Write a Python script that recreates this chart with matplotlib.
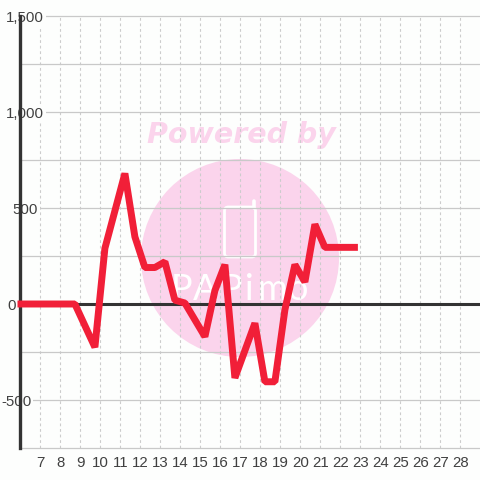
import matplotlib
matplotlib.use("Agg")
import matplotlib.pyplot as plt
from matplotlib.patches import Circle, FancyBboxPatch
from matplotlib.lines import Line2D

plt.rcParams['font.family'] = ['Liberation Sans', 'DejaVu Sans']

x_vals = [5.85, 8.72, 9.72, 10.22, 11.22, 11.72, 12.22, 12.72, 13.22, 13.72, 14.22, 15.22,
          15.72, 16.22, 16.72, 17.72, 18.22, 18.72, 19.22, 19.72, 20.22, 20.72, 21.22, 22.87]
y_vals = [0, 0, -225, 290, 680, 350, 190, 190, 220, 20, 5, -170,
          70, 205, -385, -100, -405, -405, -30, 205, 115, 415, 295, 295]
x_ticks = list(range(7, 29))
y_major = [-500, 0, 500, 1000, 1500]
y_labels = ['-500', '0', '500', '1,000', '1,500']
y_label_centers = [16, 12, 25, 25, 25]
y_minor = [-750, -250, 250, 750, 1250]
logo_letters = ['P', 'A', 'P', 'i', 'm', 'o']
logo_centers = [182, 205, 232, 249, 272, 298]

BG = '#fdfefd'
GRID = '#c9c9c9'
VGRID = '#cccccc'
DARK = '#333333'
TEXT = '#404040'
PINK = '#fbd4ec'
RED = '#f11f38'

fig = plt.figure(figsize=(4.8, 4.8), dpi=100, facecolor=BG)
ax = fig.add_axes([20.5 / 480, (480 - 448) / 480, (480 - 20.5) / 480, (448 - 16) / 480])
ax.set_facecolor('none')
ax.set_zorder(1)
ax.set_xlim(6, 28.975)
ax.set_ylim(-750, 1500)

# watermark, in figure pixels
def fx(p): return p / 480
def fy(p): return 1 - p / 480
wm = dict(transform=fig.transFigure, zorder=0)
fig.add_artist(Circle((fx(240), fy(258)), 99 / 480, facecolor=PINK, edgecolor='none', **wm))
fig.add_artist(FancyBboxPatch((fx(224.5), fy(257)), 31 / 480, 50 / 480,
                              boxstyle='round,pad=0,rounding_size=0.008',
                              facecolor='none', edgecolor='white', linewidth=2, **wm))
fig.add_artist(Line2D([fx(254), fx(254)], [fy(208), fy(201)], color='white', linewidth=2.6,
                      solid_capstyle='round', transform=fig.transFigure, zorder=0))
fig.text(fx(241.5), fy(135), 'Powered by', fontsize=20.5, fontweight='bold', fontstyle='italic',
         family='DejaVu Sans', color=PINK, ha='center', va='center', zorder=0)
for letter, cx in zip(logo_letters, logo_centers):
    fig.text(fx(cx), fy(290), letter, fontsize=26, color='white', family='Lato',
             ha='center', va='center', zorder=0)

for s in ax.spines.values():
    s.set_visible(False)

ax.set_xticks(x_ticks)
ax.set_xticklabels([str(t) for t in x_ticks])
ax.set_yticks(y_major)
ax.set_yticklabels(y_labels)
ax.set_yticks(y_minor, minor=True)
ax.tick_params(axis='both', which='both', length=0)
ax.tick_params(axis='x', labelsize=10.8, labelcolor=TEXT, pad=5.5)
ax.tick_params(axis='y', labelsize=10.8, labelcolor=TEXT, pad=0)

ax.grid(True, axis='x', color=VGRID, linewidth=0.8, linestyle=(0, (2.5, 2.5)), zorder=1)
ax.grid(True, axis='y', which='both', color=GRID, linewidth=0.9, zorder=1)
ax.set_axisbelow(True)
for t in ax.yaxis.get_minor_ticks() + ax.yaxis.get_major_ticks():
    t.gridline.set_clip_on(False)

ax.axhline(0, color=DARK, linewidth=2.2, zorder=2)
ax.axvline(6, color=DARK, linewidth=2.4, zorder=2, clip_on=False)

for lab, cx in zip(ax.get_yticklabels(), y_label_centers):
    lab.set_ha('center')
    lab.set_x((cx - 20.5) / (480 - 20.5))
    lab.set_bbox(dict(facecolor=BG, edgecolor='none', pad=1.5))
    lab.set_zorder(5)

ax.plot(x_vals, y_vals, color=RED, linewidth=5, solid_joinstyle='bevel',
        solid_capstyle='butt', clip_on=False, zorder=3)

fig.savefig('out.png', dpi=100, facecolor=BG)
